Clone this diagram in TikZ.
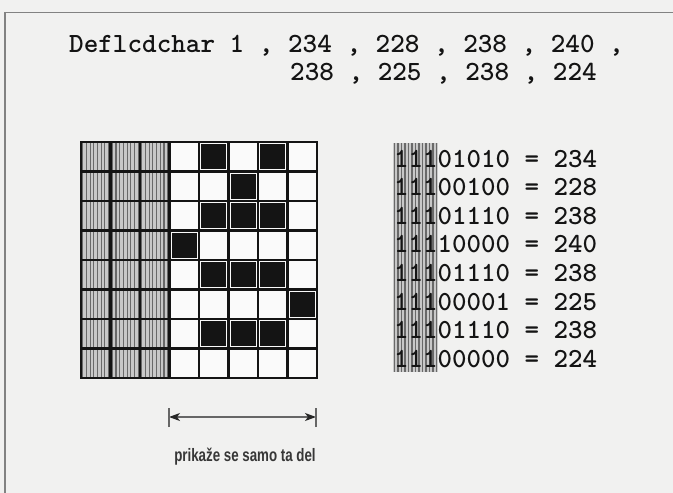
\documentclass[tikz,border=0pt]{standalone}
\usepackage{fontspec}
\usetikzlibrary{arrows.meta}
\newfontfamily\narrowfont{Liberation Sans}
\definecolor{paper}{RGB}{241,241,240}
\definecolor{cellwhite}{RGB}{250,250,250}
\definecolor{ink}{RGB}{20,20,20}
\definecolor{hatch}{RGB}{105,105,105}
\definecolor{hatchbg}{RGB}{200,200,200}
\definecolor{frame}{RGB}{130,130,130}
\tikzset{
  gridline/.style={line width=2.2pt, draw=ink},
  hatchline/.style={line width=1.1pt, draw=hatch},
  blackcell/.style={fill=ink, draw=none},
  codetext/.style={font=\ttfamily\bfseries\fontsize{27.8}{30}\selectfont, text=ink, inner sep=0pt, anchor=base west},
  bintext/.style={font=\ttfamily\bfseries\fontsize{27.6}{30}\selectfont, text=ink, inner sep=0pt, anchor=base west},
  labeltext/.style={font=\narrowfont\bfseries\fontsize{18}{20}\selectfont, text=ink!85, inner sep=0pt, xscale=0.74},
  dimline/.style={line width=1.1pt, draw=black!60},
  dimtip/.tip={Stealth[length=11pt,width=8pt,inset=3pt,color=black!85,fill=black!85]},
}
\begin{document}
\begin{tikzpicture}[x=1pt,y=-1pt]
\useasboundingbox (0,0) rectangle (673,493);
\fill[paper] (0,0) rectangle (673,493);
% frame
\draw[frame, line width=1.6pt] (5,493) -- (5,12.5) -- (673,12.5);
% top code text
\node[codetext] (line1) at (69,52) {Deflcdchar 1 , 234 , 228 , 238 , 240 ,};
\node[codetext] (line2) at (290,80) {238 , 225 , 238 , 224};
% grid background
\fill[cellwhite] (81,142) rectangle (317,378);
\fill[hatchbg] (81,142) rectangle (169.5,378);
% hatch of the grid (first three columns)
\foreach \i in {0,...,23} {
  \draw[hatchline] ({81+1.8+\i*3.69},142) -- ++(0,236);
}
% black cells
\foreach \c/\r in {4/0,6/0,5/1,4/2,5/2,6/2,3/3,4/4,5/4,6/4,7/5,4/6,5/6,6/6} {
  \fill[blackcell] ({81+\c*29.5+2.2},{142+\r*29.5+2.2}) rectangle ++(25.1,25.1);
}
% grid lines
\foreach \k in {0,...,8} {
  \draw[gridline] ({81+\k*29.5},141) -- ++(0,238);
  \draw[gridline] (80,{142+\k*29.5}) -- ++(238,0);
}
% hatch behind binary digits
\fill[hatchbg] (393,143) rectangle (438,372);
\foreach \i in {0,...,12} {
  \draw[hatchline] ({394.5+\i*3.5},143) -- ++(0,229);
}
% binary list
\foreach \b/\v [count=\n from 0] in {11101010/234,11100100/228,11101110/238,11110000/240,11101110/238,11100001/225,11101110/238,11100000/224} {
  \node[bintext] (bin\n) at (394,{167+\n*28.6}) {\b\ = \v};
}
% dimension arrow
\coordinate (aL) at (169,417);
\coordinate (aR) at (316,417);
\draw[dimline, dimtip-dimtip] (aL) -- (aR);
\draw[dimline, line width=1.4pt] ([yshift=-10pt]aL) -- ([yshift=9pt]aL);
\draw[dimline, line width=1.4pt] ([yshift=-10pt]aR) -- ([yshift=9pt]aR);
\node[labeltext] (lab) at (245,457) {prikaže se samo ta del};
\end{tikzpicture}
\end{document}
